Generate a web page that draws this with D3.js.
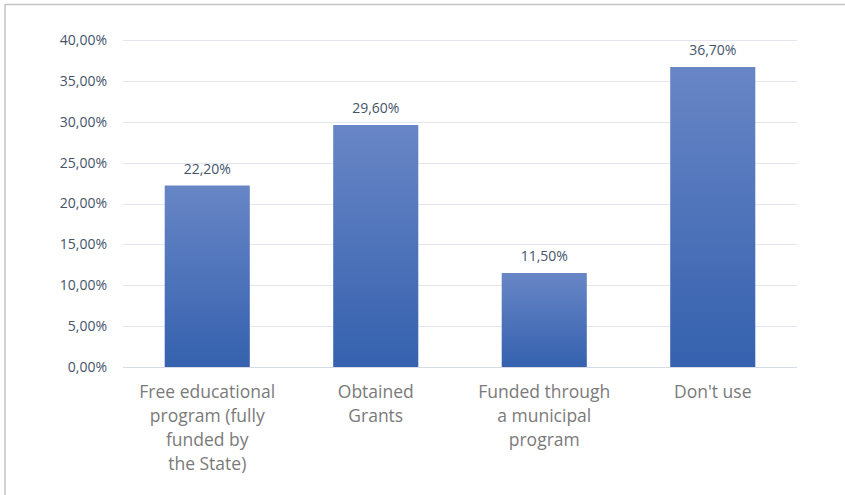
<!DOCTYPE html>
<html>
<head>
<meta charset="utf-8">
<script src="https://d3js.org/d3.v7.min.js"></script>
<style>
body { margin: 0; background: #fff; }
svg { font-family: "Open Sans", sans-serif; }
</style>
</head>
<body>
<svg id="chart" width="845" height="495"></svg>
<script>
// chart data
var categories = [
	["Free educational", "program (fully", "funded by", "the State)"],
	["Obtained", "Grants"],
	["Funded through", "a municipal", "program"],
	["Don't use"]
];
var values = [22.2, 29.6, 11.5, 36.7];
var tickValues = [0, 5, 10, 15, 20, 25, 30, 35, 40];

var svg = d3.select("#chart");

// frame (top and left edge only, like the picture)
svg.append("line").attr("x1", 5).attr("y1", 4.5).attr("x2", 845).attr("y2", 4.5)
	.attr("stroke", "#c4c4c4").attr("stroke-width", 1.5);
svg.append("line").attr("x1", 5).attr("y1", 4).attr("x2", 5).attr("y2", 495)
	.attr("stroke", "#c4c4c4").attr("stroke-width", 1.5);

var x = d3.scaleBand().domain(d3.range(categories.length)).range([123, 797]).paddingInner(0.495).paddingOuter(0.2475);
var y = d3.scaleLinear().domain([0, 40]).range([367, 40]);

var fmt = function (v) { return d3.format(".2f")(v).replace(".", ",") + "%"; };

// gradient for bars
var defs = svg.append("defs");
var grad = defs.append("linearGradient").attr("id", "barGrad")
	.attr("x1", 0).attr("y1", 0).attr("x2", 0).attr("y2", 1);
grad.append("stop").attr("offset", "0%").attr("stop-color", "#6886c6");
grad.append("stop").attr("offset", "100%").attr("stop-color", "#3561ae");

// gridlines
svg.append("g").selectAll("line").data(tickValues).enter().append("line")
	.attr("x1", 123).attr("x2", 797)
	.attr("y1", function (d) { return Math.round(y(d)) + 0.5; })
	.attr("y2", function (d) { return Math.round(y(d)) + 0.5; })
	.attr("stroke", function (d) { return d === 0 ? "#d6dce5" : "#e3e6ec"; })
	.attr("stroke-width", 1);

// y tick labels
svg.append("g").selectAll("text").data(tickValues).enter().append("text")
	.attr("x", 107)
	.attr("y", function (d) { return y(d); })
	.attr("dy", "0.35em")
	.attr("text-anchor", "end")
	.attr("font-size", 14)
	.attr("fill", "#44546a")
	.text(function (d) { return fmt(d); });

// bars
svg.append("g").selectAll("rect").data(values).enter().append("rect")
	.attr("x", function (d, i) { return x(i); })
	.attr("y", function (d) { return y(d); })
	.attr("width", x.bandwidth())
	.attr("height", function (d) { return y(0) - y(d); })
	.attr("fill", "url(#barGrad)");

// value labels
svg.append("g").selectAll("text").data(values).enter().append("text")
	.attr("x", function (d, i) { return x(i) + x.bandwidth() / 2; })
	.attr("y", function (d) { return y(d) - 12; })
	.attr("text-anchor", "middle")
	.attr("font-size", 14)
	.attr("fill", "#44546a")
	.text(function (d) { return fmt(d); });

// category labels
var cat = svg.append("g").selectAll("text").data(categories).enter().append("text")
	.attr("x", function (d, i) { return x(i) + x.bandwidth() / 2; })
	.attr("y", 398)
	.attr("text-anchor", "middle")
	.attr("font-size", 17.5)
	.attr("fill", "#7a7a7a");
cat.selectAll("tspan").data(function (d) { return d; }).enter().append("tspan")
	.attr("x", function () { return this.parentNode.getAttribute("x"); })
	.attr("dy", function (d, j) { return j === 0 ? 0 : 24; })
	.text(function (d) { return d; });
</script>
</body>
</html>
